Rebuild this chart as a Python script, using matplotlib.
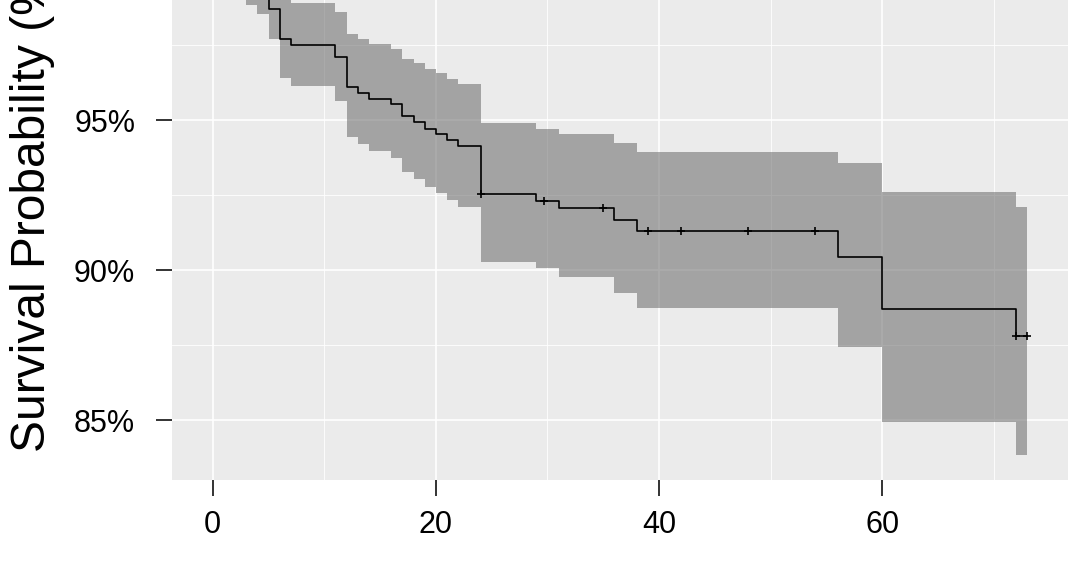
import numpy as np
import matplotlib.pyplot as plt

# Kaplan-Meier estimate (time, % surviving, 95% CI)
times = [0, 2, 3, 4, 5, 6, 7, 11, 12, 13, 14, 16, 17, 18, 19, 20, 21, 22,
         24, 29, 31, 36, 38, 56, 60, 72]
surv = [100, 99.8, 99.6, 99.3, 98.69, 97.7, 97.5, 97.11, 96.11, 95.91, 95.71,
        95.52, 95.14, 94.92, 94.71, 94.53, 94.33, 94.14, 92.53, 92.31, 92.08,
        91.67, 91.3, 90.42, 88.7, 87.81]
upper = [100, 100, 100, 99.9, 99.6, 99.3, 98.91, 98.61, 97.87, 97.69, 97.53,
         97.36, 97.02, 96.89, 96.7, 96.56, 96.37, 96.2, 94.89, 94.69, 94.52,
         94.22, 93.92, 93.56, 92.61, 92.09]
lower = [100, 99.4, 98.83, 98.53, 97.69, 96.41, 96.13, 95.64, 94.44, 94.2,
         93.98, 93.74, 93.28, 93.02, 92.78, 92.58, 92.33, 92.09, 90.28, 90.06,
         89.76, 89.22, 88.72, 87.42, 84.94, 83.83]
end_time = 73
censor_times = [24, 29.7, 35, 39, 42, 48, 54, 72, 73]

y_ticks = [85, 90, 95]
y_tick_labels = ['85%', '90%', '95%']
x_ticks = [0, 20, 40, 60]

plt.rcParams['font.family'] = ['Liberation Sans', 'DejaVu Sans']

# extend the last step out to the final follow-up time
t = np.array(times + [end_time])
s = np.array(surv + [surv[-1]])
up = np.array(upper + [upper[-1]])
lo = np.array(lower + [lower[-1]])

fig = plt.figure(figsize=(10.8, 5.66), dpi=100)
# panel runs off the top of the canvas, like the cropped original
ax = fig.add_axes([172 / 1080, 86 / 566, 896 / 1080, 535.5 / 566])
ax.set_facecolor('#EBEBEB')

ax.fill_between(t, lo, up, step='post', color='#747474', alpha=0.6, lw=0, zorder=2)
ax.step(t, s, where='post', color='black', lw=1.2, zorder=3)

idx = np.searchsorted(times, censor_times, side='right') - 1
ax.plot(censor_times, np.array(surv)[idx], '+', color='black', ms=6, mew=1.2, zorder=4)

ax.set_xlim(-3.65, 76.65)
ax.set_ylim(83.0, 100.85)
ax.set_xticks(x_ticks)
ax.set_xticks([10, 30, 50, 70], minor=True)
ax.set_yticks(y_ticks)
ax.set_yticklabels(y_tick_labels)
ax.set_yticks([87.5, 92.5, 97.5], minor=True)

ax.grid(which='major', color='white', lw=1.2, zorder=1)
ax.grid(which='minor', color='white', lw=0.6, zorder=1)
ax.set_axisbelow(True)
for sp in ax.spines.values():
    sp.set_visible(False)

ax.tick_params(which='major', length=11.5, width=1.4, color='#333333',
               labelsize=22, labelcolor='black')
ax.tick_params(axis='y', pad=15)
ax.tick_params(axis='x', pad=10)
ax.tick_params(which='minor', length=0)

ax.set_ylabel('Survival Probability (%)', fontsize=34.5)
ax.yaxis.set_label_coords((55 - 172) / 896, 0.515)

fig.savefig('out.png', dpi=100)
